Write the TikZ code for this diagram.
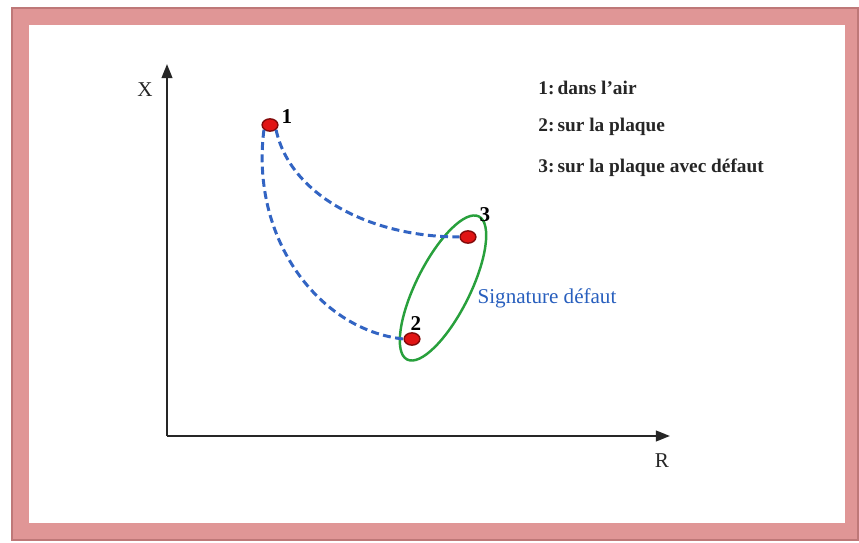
\documentclass[tikz,border=0pt]{standalone}
\usepackage{fontspec}
\setmainfont{Liberation Serif}
\usetikzlibrary{arrows.meta}
\definecolor{framepink}{RGB}{224,150,150}
\definecolor{frameedge}{RGB}{190,120,120}
\definecolor{curveblue}{RGB}{50,100,195}
\definecolor{textblue}{RGB}{40,95,190}
\definecolor{ellgreen}{RGB}{40,160,60}
\definecolor{ptred}{RGB}{225,20,20}
\definecolor{ptedge}{RGB}{130,10,10}
\tikzset{
  axis/.style={line width=1.3pt, draw=black!85, -{Triangle[length=8pt,width=6pt]}},
  curve/.style={line width=1.7pt, draw=curveblue, dash pattern=on 4.5pt off 2.5pt},
  pt/.style={ellipse, fill=ptred, draw=ptedge, line width=0.8pt, minimum width=9pt, minimum height=7pt, inner sep=0pt},
  ptlabel/.style={font=\fontsize{12}{14}\selectfont\bfseries, inner sep=0pt},
  legend/.style={font=\fontsize{11}{13}\selectfont\bfseries, anchor=west, inner sep=0pt, text=black!85},
  axlabel/.style={font=\fontsize{12}{14}\selectfont, inner sep=0pt, text=black!85}
}
\usetikzlibrary{shapes.geometric}
\begin{document}
\begin{tikzpicture}[x=0.02cm,y=-0.02cm]
\useasboundingbox (0,0) rectangle (859,543);
\fill[white] (0,0) rectangle (859,543);
% frame
\draw[framepink, line width=9.5pt] (21,17) rectangle (853,531);
\draw[frameedge, line width=0.6pt] (12,8) rectangle (858,540);
% axes
\coordinate (O) at (167,436);
\coordinate (ytip) at (167,64);
\coordinate (xtip) at (670,436);
\draw[axis] (O) -- (ytip);
\draw[axis] (O) -- (xtip);
\node[axlabel] (xlab) at (145,90) {X};
\node[axlabel] (rlab) at (662,461) {R};
% green ellipse
\draw[ellgreen, line width=1.4pt, rotate around={63.4:(443,288)}] (443,288) ellipse [x radius=80, y radius=27];
% points
\node[pt] (p1) at (270,125) {};
\node[pt] (p3) at (468,237) {};
\node[pt] (p2) at (412,339) {};
% curves
\draw[curve] (p1.south west) .. controls (250,240) and (320,330) .. (p2.west);
\draw[curve] (p1.south east) .. controls (290,195) and (370,237) .. (p3.west);
% point labels
\node[ptlabel] (l1) at (287,117) {1};
\node[ptlabel] (l3) at (485,215) {3};
\node[ptlabel] (l2) at (416,324) {2};
% texts
\node[font=\fontsize{12}{14}\selectfont, text=textblue, inner sep=0pt] (sig) at (547,298) {Signature défaut};
\node[legend] (leg1) at (538,88) {1:\,dans l'air};
\node[legend] (leg2) at (538,127) {2:\,sur la plaque};
\node[legend] (leg3) at (538,168) {3:\,sur la plaque avec défaut};
\end{tikzpicture}
\end{document}
